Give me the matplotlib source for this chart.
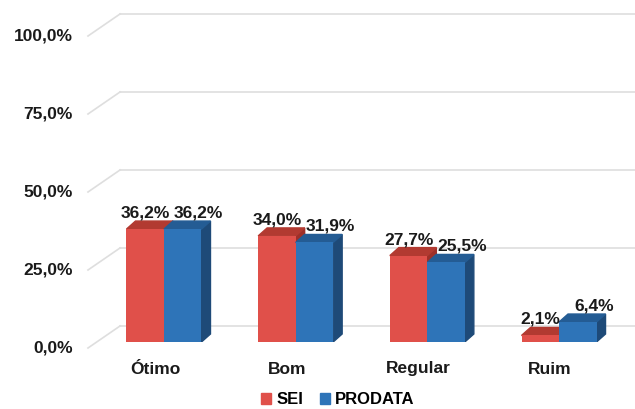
import matplotlib
matplotlib.use('Agg')
import matplotlib.pyplot as plt
from matplotlib.patches import Polygon, Patch

# Dados
categorias = ['Ótimo', 'Bom', 'Regular', 'Ruim']
sei = [36.2, 34.0, 27.7, 2.1]
prodata = [36.2, 31.9, 25.5, 6.4]
ticks = [0, 25, 50, 75, 100]
tick_labels = ['0,0%', '25,0%', '50,0%', '75,0%', '100,0%']

plt.rcParams['font.family'] = ['Liberation Sans', 'DejaVu Sans']

W, H = 635, 409
fig = plt.figure(figsize=(W / 100, H / 100), dpi=100)
ax = fig.add_axes([88 / W, (H - 342) / H, (W - 88) / W, 312 / H])
ax.set_xlim(-0.577, 3.577)
ax.set_ylim(0, 100)
ax.axis('off')

px_x = (3.577 + 0.577) / (W - 88)   # unidades x por pixel
px_y = 100 / 312                    # unidades y por pixel

# parede do fundo e diagonais das linhas de grade
back_dy = 16 * px_y
front_dy = -6 * px_y
back_x0 = -0.577 + 32 * px_x
for t, lab in zip(ticks, tick_labels):
    ax.plot([back_x0, 3.577], [t + back_dy] * 2, color='#dedede', lw=1.2,
            zorder=0, clip_on=False)
    ax.plot([-0.577, back_x0], [t + front_dy, t + back_dy], color='#dedede',
            lw=1.2, zorder=0, clip_on=False)
    ax.text(-0.577 - 15 * px_x, t + front_dy, lab, ha='right', va='center',
            fontsize=12.5, fontweight='bold', color='#1a1a1a')

# barras 3D
w = 37.5 * px_x
dx = 9 * px_x
dy = 8 * px_y
cores = {
    'SEI': ('#E0504A', '#B23A31', '#9E3029'),
    'PRODATA': ('#2E74B8', '#245C94', '#1E4A78'),
}


def barra3d(x0, h, frente, topo, lado, z):
    ax.bar(x0, h, width=w, align='edge', color=frente, zorder=z + 0.2)
    ax.add_patch(Polygon([(x0, h), (x0 + dx, h + dy), (x0 + w + dx, h + dy),
                          (x0 + w, h)], closed=True, color=topo, zorder=z + 0.1))
    ax.add_patch(Polygon([(x0 + w, 0), (x0 + w + dx, dy), (x0 + w + dx, h + dy),
                          (x0 + w, h)], closed=True, color=lado, zorder=z))


for i in range(len(categorias)):
    barra3d(i - w, sei[i], *cores['SEI'], z=2 + i)
    barra3d(i, prodata[i], *cores['PRODATA'], z=2.5 + i)
    ax.text(i - w / 2, sei[i] + 16 * px_y, f'{sei[i]:.1f}%'.replace('.', ','),
            ha='center', va='center', fontsize=12.5, fontweight='bold',
            color='#1a1a1a', zorder=20)
    ax.text(i + w / 2 + 16 * px_x, prodata[i] + 16 * px_y,
            f'{prodata[i]:.1f}%'.replace('.', ','),
            ha='center', va='center', fontsize=12.5, fontweight='bold',
            color='#1a1a1a', zorder=20)
    ax.text(i - 9 * px_x, -27 * px_y, categorias[i], ha='center', va='center',
            fontsize=12.5, fontweight='bold', color='#1a1a1a')

# legenda
handles = [Patch(color=cores['SEI'][0], label='SEI'),
           Patch(color=cores['PRODATA'][0], label='PRODATA')]
fig.legend(handles=handles, loc='center', bbox_to_anchor=(338 / W, 9 / H),
           ncol=2, frameon=False, handlelength=0.6, handleheight=0.6,
           handletextpad=0.3, columnspacing=1.0, borderpad=0.2,
           prop={'size': 12, 'weight': 'bold'})

fig.savefig('out.png', dpi=100)
